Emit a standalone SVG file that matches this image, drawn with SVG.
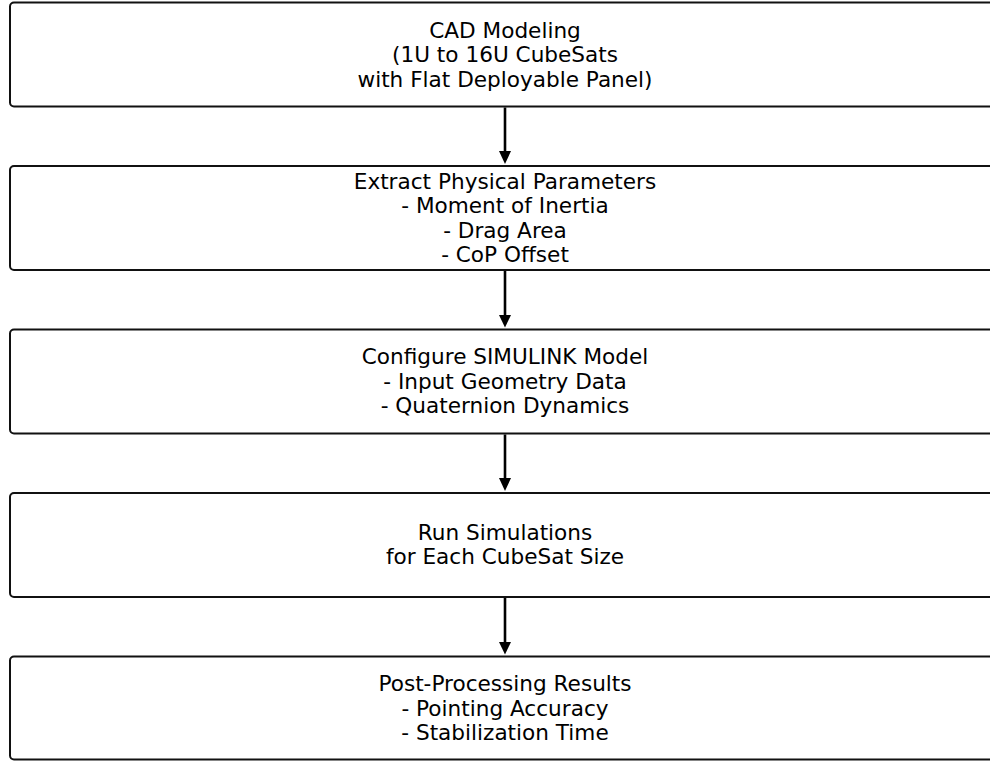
<svg xmlns="http://www.w3.org/2000/svg" width="990" height="761" viewBox="0 0 990 761">
<style>
.box{fill:#fff;stroke:#111;stroke-width:2}
.t{font-family:"DejaVu Sans",sans-serif;font-size:21.6px;fill:#000;text-anchor:middle}
.c{stroke:#000;stroke-width:2.6;fill:none}
.h{fill:#000}
</style>
<rect width="990" height="761" fill="#fff"/>
<g id="n1"><rect class="box" x="10" y="2.5" width="990" height="104" rx="4"/>
<text class="t" x="505" y="37.6">CAD Modeling</text>
<text class="t" x="505" y="62.1">(1U to 16U CubeSats</text>
<text class="t" x="505" y="86.6">with Flat Deployable Panel)</text></g>
<g id="n2"><rect class="box" x="10" y="166" width="990" height="104" rx="4"/>
<text class="t" x="505" y="188.7">Extract Physical Parameters</text>
<text class="t" x="505" y="213.2">- Moment of Inertia</text>
<text class="t" x="505" y="237.7">- Drag Area</text>
<text class="t" x="505" y="262.2">- CoP Offset</text></g>
<g id="n3"><rect class="box" x="10" y="329.5" width="990" height="104" rx="4"/>
<text class="t" x="505" y="364.4">Configure SIMULINK Model</text>
<text class="t" x="505" y="388.9">- Input Geometry Data</text>
<text class="t" x="505" y="413.4">- Quaternion Dynamics</text></g>
<g id="n4"><rect class="box" x="10" y="493" width="990" height="104" rx="4"/>
<text class="t" x="505" y="539.9">Run Simulations</text>
<text class="t" x="505" y="564.4">for Each CubeSat Size</text></g>
<g id="n5"><rect class="box" x="10" y="656.5" width="990" height="103" rx="4"/>
<text class="t" x="505" y="691.1">Post-Processing Results</text>
<text class="t" x="505" y="715.6">- Pointing Accuracy</text>
<text class="t" x="505" y="740.1">- Stabilization Time</text></g>
<g id="connectors">
<line class="c" x1="505" y1="107.5" x2="505" y2="153"/><path class="h" d="M499,151 L511,151 L505,164 Z"/>
<line class="c" x1="505" y1="271" x2="505" y2="317"/><path class="h" d="M499,315 L511,315 L505,327.5 Z"/>
<line class="c" x1="505" y1="434.5" x2="505" y2="480"/><path class="h" d="M499,478 L511,478 L505,491 Z"/>
<line class="c" x1="505" y1="598" x2="505" y2="644"/><path class="h" d="M499,642 L511,642 L505,654.5 Z"/>
</g>
</svg>
